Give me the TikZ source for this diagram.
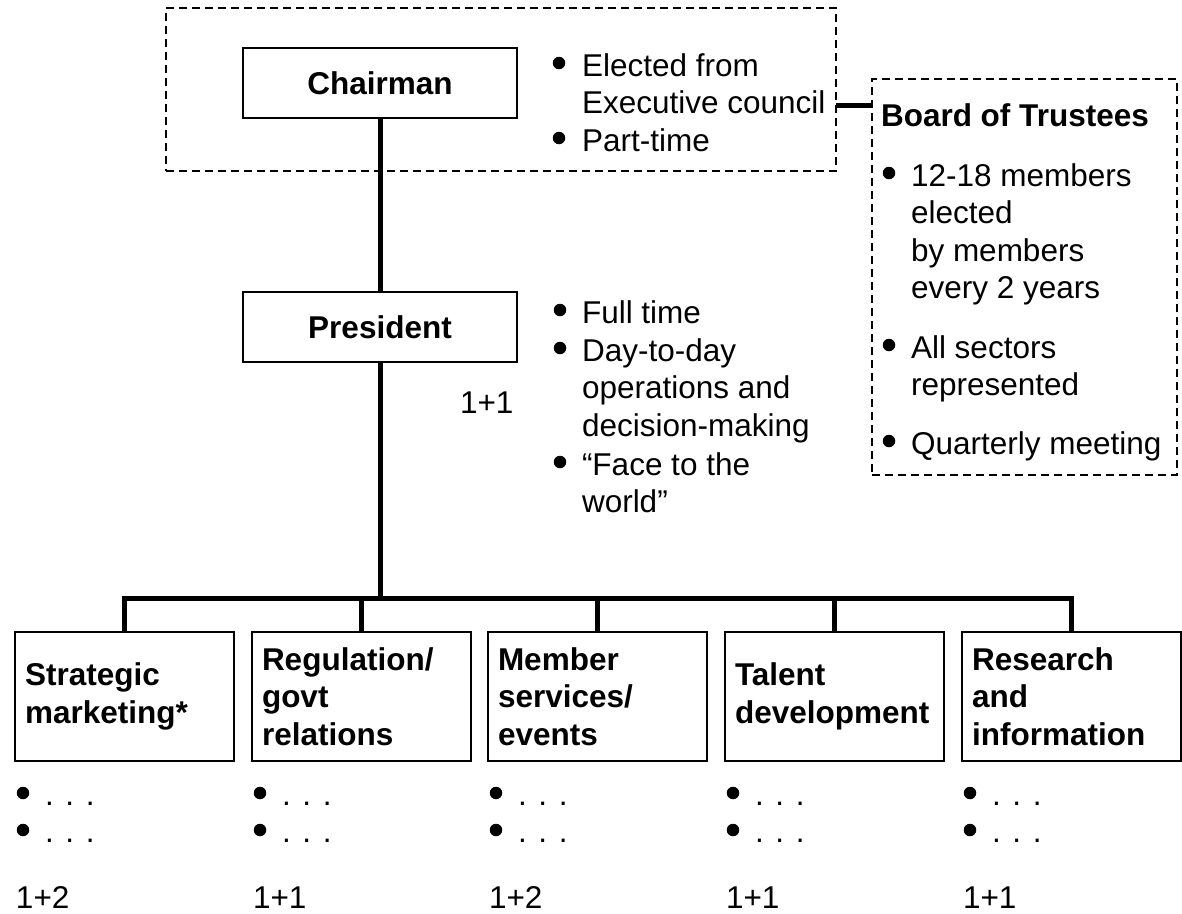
\documentclass[tikz,border=0pt]{standalone}
\usepackage{fontspec}
\setmainfont{Liberation Sans}
\newcommand{\bodyfont}{\fontsize{31.5}{37.5}\selectfont}
\begin{document}
\begin{tikzpicture}[x=1pt,y=-1pt,
  every node/.style={font=\bodyfont, inner sep=0pt, outer sep=0pt},
  txt/.style={anchor=base west},
  bul/.style={circle, fill, minimum size=12.5pt},
  head/.style={anchor=base west, font=\bodyfont\bfseries},
  unitbox/.style={draw, line width=1.5pt, minimum width=274pt, minimum height=70pt,
    font=\bodyfont\bfseries},
  deptbox/.style={draw, line width=1.5pt, minimum width=219pt, minimum height=129pt,
    text width=199pt, align=left, inner xsep=10pt, inner ysep=0pt,
    font=\bodyfont\bfseries},
  frame/.style={draw, dash pattern=on 8pt off 5pt, line width=1.3pt},
  conn/.style={line width=5pt}]
\useasboundingbox (0,0) rectangle (1182,913);

% group frames
\node[frame, minimum width=670pt, minimum height=163pt] (chairgrp) at (501,89.5) {};
\node[frame, minimum width=305pt, minimum height=396pt] (board) at (1024.5,277) {};

% top of the hierarchy
\node[unitbox] (chair) at (380,83) {Chairman};
\node[unitbox] (pres) at (380,327) {President};

% chairman notes
\node[bul] (cb1) at (559,63) {};
\node[txt] (ct1) at (582,76) {Elected from};
\node[txt] (ct2) at (582,113.5) {Executive council};
\node[bul] (cb2) at (559,138) {};
\node[txt] (ct3) at (582,151) {Part-time};

% board of trustees
\node[head] (bt) at (881,126) {Board of Trustees};
\node[bul] (bb1) at (889,173) {};
\node[txt] (bt1) at (911,186) {12-18 members};
\node[txt] (bt2) at (911,223.5) {elected};
\node[txt] (bt3) at (911,261) {by members};
\node[txt] (bt4) at (911,298.5) {every 2 years};
\node[bul] (bb2) at (889,345) {};
\node[txt] (bt5) at (911,358) {All sectors};
\node[txt] (bt6) at (911,395.5) {represented};
\node[bul] (bb3) at (889,441) {};
\node[txt] (bt7) at (911,454) {Quarterly meeting};

% president notes
\node[bul] (pb1) at (560,310) {};
\node[txt] (pt1) at (582,323) {Full time};
\node[bul] (pb2) at (560,348) {};
\node[txt] (pt2) at (582,361) {Day-to-day};
\node[txt] (pt3) at (582,398.5) {operations and};
\node[txt] (pt4) at (582,436) {decision-making};
\node[bul] (pb3) at (560,462) {};
\node[txt] (pt5) at (582,475) {“Face to the};
\node[txt] (pt6) at (582,512.5) {world”};
\node[txt] (pstaff) at (460,413) {1+1};

% departments
\node[deptbox] (d1) at (124.5,696.5) {Strategic\\marketing*};
\node[deptbox] (d2) at (361.5,696.5) {Regulation/\\govt\\relations};
\node[deptbox] (d3) at (597.5,696.5) {Member\\services/\\events};
\node[deptbox] (d4) at (834.5,696.5) {Talent\\development};
\node[deptbox] (d5) at (1071.5,696.5) {Research\\and\\information};

% department notes and staffing
\foreach \n/\l/\s in {1/15/1+2, 2/252/1+1, 3/488/1+2, 4/725/1+1, 5/962/1+1}{
  \node[bul] (db\n a) at (\l+8,793) {};
  \node[txt] (dd\n a) at (\l+30,805) {. . .};
  \node[bul] (db\n b) at (\l+8,830) {};
  \node[txt] (dd\n b) at (\l+30,842) {. . .};
  \node[txt] (ds\n) at (\l+1,908) {\s};
}

% connectors
\coordinate (bar) at (380,598);
\coordinate (bconn) at (0,105);
\draw[conn] (chair) -- (pres);
\draw[conn] (chairgrp.east |- bconn) -- (board.west |- bconn);
\draw[conn] (pres.south) -- (pres.south |- bar);
\draw[conn] (d1.north) -- (d1.north |- bar) -- (d5.north |- bar) -- (d5.north);
\foreach \n in {2,3,4}{
  \draw[conn] (d\n.north) -- (d\n.north |- bar);
}
\end{tikzpicture}
\end{document}
